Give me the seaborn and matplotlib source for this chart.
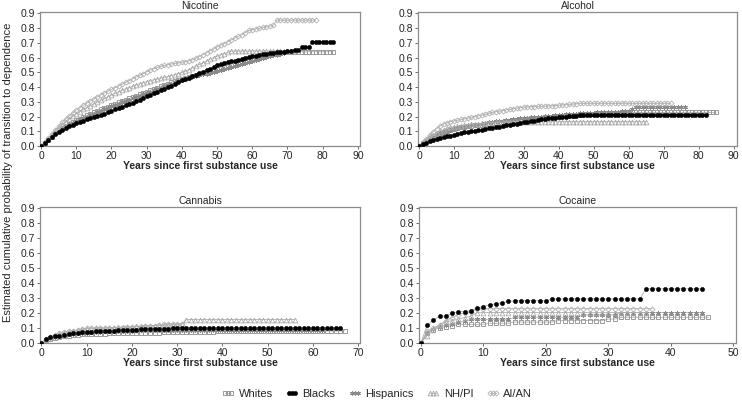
import numpy as np
import pandas as pd
import matplotlib
matplotlib.use("Agg")
import matplotlib.pyplot as plt
import seaborn as sns

# ---------------- data (values at each year since first use) ----------------
groups = ["Whites", "Blacks", "Hispanics", "NH/PI", "AI/AN"]
substances = ["Nicotine", "Alcohol", "Cannabis", "Cocaine"]

nic_whites = [0.000,0.020,0.042,0.064,0.086,0.106,0.122,0.136,0.150,0.162,0.175,
              0.186,0.197,0.208,0.218,0.228,0.238,0.248,0.258,0.268,0.278,
              0.287,0.296,0.305,0.314,0.323,0.332,0.341,0.350,0.360,0.370,
              0.379,0.388,0.397,0.406,0.415,0.424,0.433,0.441,0.449,0.457,
              0.464,0.471,0.478,0.485,0.492,0.499,0.506,0.513,0.520,0.527,
              0.534,0.541,0.548,0.555,0.562,0.568,0.574,0.580,0.586,0.592,
              0.598,0.604,0.610,0.615,0.620,0.625,0.630,0.633,0.636,0.638] + [0.640]*13
nic_blacks = [0.000,0.020,0.040,0.060,0.080,0.098,0.112,0.124,0.135,0.145,0.155,
              0.164,0.172,0.180,0.188,0.196,0.204,0.212,0.220,0.229,0.240,
              0.249,0.258,0.267,0.276,0.285,0.295,0.305,0.315,0.326,0.338,
              0.348,0.358,0.368,0.379,0.390,0.400,0.410,0.421,0.433,0.445,
              0.455,0.465,0.475,0.485,0.495,0.505,0.515,0.525,0.535,0.550,
              0.556,0.562,0.568,0.574,0.580,0.585,0.590,0.596,0.603,0.610,
              0.614,0.618,0.622,0.626,0.630,0.633,0.636,0.638,0.640,0.642,
              0.645,0.650,0.650,0.670,0.670,0.670] + [0.705]*7
nic_hisp = [0.000,0.020,0.042,0.064,0.086,0.105,0.120,0.134,0.147,0.159,0.170,
            0.180,0.190,0.200,0.210,0.220,0.230,0.240,0.250,0.260,0.270,
            0.279,0.288,0.297,0.306,0.315,0.324,0.333,0.342,0.351,0.360,
            0.369,0.378,0.387,0.396,0.405,0.414,0.423,0.432,0.441,0.450,
            0.456,0.462,0.468,0.474,0.480,0.486,0.492,0.498,0.504,0.510,
            0.517,0.524,0.531,0.538,0.545,0.552,0.559,0.566,0.573,0.580,
            0.586,0.592,0.598,0.604,0.610,0.615,0.620,0.625,0.630]
nic_nhpi = [0.000,0.022,0.046,0.072,0.098,0.122,0.145,0.166,0.186,0.204,0.220,
            0.234,0.248,0.261,0.274,0.287,0.299,0.311,0.323,0.335,0.346,
            0.357,0.368,0.378,0.388,0.397,0.406,0.414,0.422,0.430,0.437,
            0.443,0.449,0.455,0.461,0.466,0.471,0.477,0.484,0.492,0.500,
            0.508,0.518,0.530,0.542,0.554,0.566,0.578,0.590,0.600,0.610,
            0.620,0.628,0.636] + [0.645]*19
nic_aian = [0.000,0.026,0.054,0.082,0.110,0.136,0.160,0.183,0.205,0.225,0.243,
            0.260,0.276,0.291,0.306,0.320,0.334,0.347,0.360,0.372,0.384,
            0.396,0.408,0.420,0.432,0.444,0.456,0.468,0.480,0.492,0.504,
            0.515,0.525,0.534,0.541,0.547,0.552,0.557,0.561,0.565,0.569,
            0.573,0.578,0.585,0.595,0.607,0.620,0.633,0.646,0.659,0.672,
            0.684,0.696,0.708,0.720,0.732,0.744,0.756,0.770,0.785,0.790,
            0.795,0.800,0.805,0.810,0.815,0.820] + [0.855]*12

alc_whites = [0.000,0.018,0.036,0.053,0.068,0.080,0.090,0.098,0.105,0.111,0.117,
              0.122,0.126,0.130,0.134,0.137,0.140,0.143,0.146,0.149,0.152,
              0.155,0.158,0.161,0.164,0.167,0.170,0.173,0.175,0.177,0.179,
              0.181,0.183,0.185,0.187,0.189,0.191,0.193,0.195,0.197,0.199,
              0.201,0.203,0.205,0.207,0.209,0.211,0.213,0.215,0.217,0.219,
              0.220,0.221,0.222,0.223,0.224,0.225,0.226,0.226,0.227,0.227,0.228] + [0.228]*24
alc_blacks = [0.000,0.012,0.022,0.031,0.039,0.046,0.053,0.059,0.065,0.071,0.077,
              0.082,0.087,0.092,0.096,0.100,0.104,0.108,0.112,0.116,0.120,
              0.124,0.128,0.132,0.136,0.140,0.144,0.148,0.152,0.156,0.160,
              0.164,0.168,0.172,0.176,0.180,0.184,0.187,0.190,0.193,0.196,
              0.198,0.200,0.202,0.204,0.206,0.208,0.209,0.210,0.211,0.212] + [0.213]*32
alc_hisp = [0.000,0.016,0.033,0.049,0.063,0.076,0.087,0.096,0.104,0.111,0.117,
            0.122,0.127,0.132,0.136,0.140,0.144,0.148,0.152,0.156,0.160,
            0.164,0.167,0.170,0.173,0.176,0.179,0.182,0.185,0.188,0.190,
            0.192,0.194,0.196,0.198,0.200,0.202,0.204,0.206,0.208,0.210,
            0.212,0.214,0.216,0.218,0.220,0.222,0.224,0.225,0.226,0.227,
            0.228,0.229,0.230,0.231,0.232,0.233,0.234,0.235,0.236,0.238,0.248] + [0.265]*15
alc_nhpi = [0.000,0.020,0.040,0.058,0.075,0.090,0.102,0.112,0.120,0.126,0.131,
            0.135,0.139,0.142,0.145,0.148,0.150,0.152,0.154,0.156,0.158,
            0.159,0.160,0.161,0.162,0.163,0.164,0.164,0.165,0.165,0.165] + [0.165]*35
alc_aian = [0.000,0.025,0.050,0.075,0.098,0.118,0.135,0.148,0.158,0.165,0.170,
            0.175,0.180,0.185,0.190,0.195,0.200,0.205,0.210,0.215,0.222,
            0.228,0.233,0.237,0.241,0.245,0.249,0.253,0.257,0.261,0.264,
            0.266,0.267,0.268,0.269,0.270,0.271,0.272,0.273,0.275,0.277,
            0.279,0.281,0.283,0.285,0.287,0.290] + [0.290]*26

can_whites = [0.000,0.018,0.028,0.036,0.042,0.046,0.050,0.053,0.055,0.057,0.059,
              0.060,0.061,0.062,0.063,0.064,0.065,0.066,0.066,0.067,0.067,
              0.068,0.068,0.069,0.069,0.070,0.070,0.071,0.071,0.072,0.072,
              0.073,0.073,0.074,0.074,0.075,0.075,0.076,0.076,0.077,0.078] + [0.080]*26 + [0.083]
can_blacks = [0.000,0.028,0.038,0.044,0.050,0.055,0.062,0.066,0.069,0.071,0.073,
              0.075,0.077,0.079,0.081,0.082,0.083,0.084,0.085,0.087,0.089,
              0.090,0.091,0.092,0.093,0.094,0.095,0.096,0.097,0.098,0.099] + [0.100]*36
can_hisp = [0.000,0.020,0.032,0.040,0.047,0.052,0.057,0.061,0.064,0.067,0.070,
            0.072,0.074,0.076,0.077,0.078,0.079,0.080,0.081,0.082,0.083,
            0.084,0.085,0.086,0.087,0.088,0.088,0.089,0.089,0.090,0.090] + [0.090]*32
can_nhpi = [0.000,0.020,0.035,0.048,0.058,0.066,0.073,0.080,0.086,0.091,0.097,
            0.098,0.099,0.100,0.101,0.102,0.103,0.104,0.110,0.110,0.110,
            0.112,0.114,0.115,0.116,0.117,0.118,0.119,0.120,0.121,0.122,0.125] + [0.157]*25
can_aian = [0.000,0.025,0.042,0.055,0.064,0.071,0.077,0.082,0.088,0.093,0.098,
            0.099,0.100,0.100,0.100,0.100,0.100,0.101,0.102,0.104,0.106,
            0.108,0.110,0.112,0.114,0.116,0.118,0.124,0.128,0.130,0.130,0.130]

coc_whites = [0.000,0.070,0.090,0.100,0.110,0.115] + [0.125]*5 + [0.132]*4 + [0.140]*7 \
             + [0.150]*8 + [0.160]*2 + [0.172]*15
coc_blacks = [0.000,0.118,0.152,0.180,0.180,0.200,0.208,0.210,0.217,0.233,0.244,
              0.256,0.262,0.270,0.278] + [0.283]*6 + [0.294]*15 + [0.362]*10
coc_hisp = [0.000,0.065,0.095,0.110,0.120,0.130,0.138,0.145] + [0.158]*7 + [0.172]*11 \
           + [0.188]*6 + [0.203]*14
coc_nhpi = [0.000,0.050,0.090,0.120,0.140,0.150,0.160,0.170,0.180] + [0.204]*28
coc_aian = [0.000,0.080,0.100,0.120,0.150,0.170,0.190,0.200,0.210] + [0.230]*29

series = {
    "Nicotine": [nic_whites, nic_blacks, nic_hisp, nic_nhpi, nic_aian],
    "Alcohol": [alc_whites, alc_blacks, alc_hisp, alc_nhpi, alc_aian],
    "Cannabis": [can_whites, can_blacks, can_hisp, can_nhpi, can_aian],
    "Cocaine": [coc_whites, coc_blacks, coc_hisp, coc_nhpi, coc_aian],
}
xmax_ticks = {"Nicotine": 90, "Alcohol": 90, "Cannabis": 70, "Cocaine": 50}
y_ticks = [0.0, 0.1, 0.2, 0.3, 0.4, 0.5, 0.6, 0.7, 0.8, 0.9]

rows = []
for sub in substances:
    for g, vals in zip(groups, series[sub]):
        for yr, v in enumerate(vals):
            rows.append((sub, g, yr, v))
df = pd.DataFrame(rows, columns=["substance", "group", "year", "prob"])

# ---------------- styling ----------------
sns.set_theme(style="white")
plt.rcParams["font.family"] = ["Liberation Sans", "DejaVu Sans"]

gray = "#9a9a9a"
styles = {
    "Whites":    dict(marker="s", markerfacecolor="none", markeredgecolor=gray, markersize=3.0, markeredgewidth=0.7),
    "Blacks":    dict(marker="o", markerfacecolor="black", markeredgecolor="black", markersize=3.0, markeredgewidth=0.4),
    "Hispanics": dict(marker=(6, 2, 0), markerfacecolor="none", markeredgecolor="#8a8a8a", markersize=3.4, markeredgewidth=0.6),
    "NH/PI":     dict(marker="^", markerfacecolor="none", markeredgecolor="#aaaaaa", markersize=3.4, markeredgewidth=0.6),
    "AI/AN":     dict(marker="D", markerfacecolor="none", markeredgecolor="#b0b0b0", markersize=2.6, markeredgewidth=0.6),
}

fig = plt.figure(figsize=(7.42, 4.07), dpi=100)
W, H = 742.0, 407.0
# (left, top, right, bottom) in pixels and x-axis upper limit
boxes = {
    "Nicotine": (40, 12, 360, 146, 90.6),
    "Alcohol": (418, 12, 737, 146, 91.0),
    "Cannabis": (40, 207, 360, 343, 70.4),
    "Cocaine": (419, 207, 736, 343, 50.4),
}

handles = {}
for sub in substances:
    l, t, r, b, xhi = boxes[sub]
    ax = fig.add_axes([l / W, 1 - b / H, (r - l) / W, (b - t) / H])
    d = df[df["substance"] == sub]
    for g in groups:
        dg = d[d["group"] == g]
        sns.lineplot(data=dg, x="year", y="prob", ax=ax, estimator=None,
                     color="#b0b0b0", linewidth=0.6, label=g, legend=False,
                     zorder=3 if g == "Blacks" else 2, **styles[g])
    xm = xmax_ticks[sub]
    ax.set_xlim(-0.3, xhi)
    ax.set_ylim(0, 0.91)
    ax.set_xticks(np.arange(0, xm + 1, 10))
    ax.set_yticks(y_ticks)
    ax.set_yticklabels([f"{v:.1f}" for v in y_ticks])
    ax.tick_params(axis="both", labelsize=7.5, length=2.5, width=0.6, color="#555555",
                   pad=1, direction="out", bottom=True, left=True)
    for s in ax.spines.values():
        s.set_color("#8c8c8c")
        s.set_linewidth(0.9)
    ax.set_title(sub, fontsize=7.5, pad=2)
    ax.set_xlabel("Years since first substance use", fontsize=7.5, fontweight="bold", labelpad=0)
    ax.set_ylabel("")
    if sub == "Nicotine":
        hs, ls = ax.get_legend_handles_labels()
        handles = dict(zip(ls, hs))

fig.text(8 / W, 1 - 172 / H, "Estimated cumulative probability of transition to dependence",
         rotation=90, va="center", ha="center", fontsize=8)

fig.legend([handles[g] for g in groups], groups, loc="center", bbox_to_anchor=(377 / W, 1 - 394 / H),
           ncol=5, frameon=False, fontsize=8, numpoints=3, handlelength=1.1,
           columnspacing=1.2, handletextpad=0.4)

fig.savefig("out.png", dpi=100)
